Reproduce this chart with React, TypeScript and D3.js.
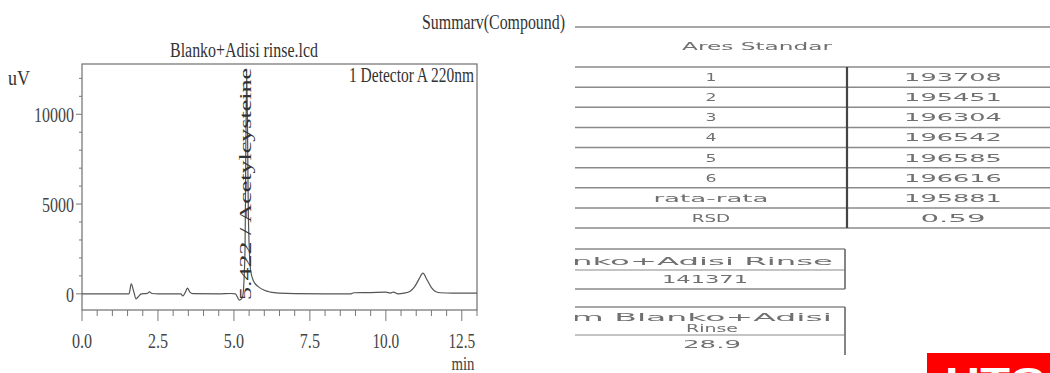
import React from "react";
import * as d3 from "d3";

// Chromatogram trace: retention time (min) and detector signal (uV)
const retentionTimes = [
  0.0, 1.55, 1.62, 1.7, 1.78, 1.86, 1.95, 2.15, 2.22, 2.3, 2.5, 3.25, 3.32, 3.4, 3.47, 3.55, 3.65,
  4.5, 4.9, 5.05, 5.18, 5.28, 5.36, 5.42, 5.48, 5.55, 5.65, 5.8, 6.0, 6.2, 6.5, 7.0, 8.0, 8.85,
  8.95, 9.5, 10.0, 10.15, 10.25, 10.4, 10.6, 10.8, 10.95, 11.1, 11.22, 11.35, 11.5, 11.65, 11.8,
  12.2, 13.0,
];
const signalUV = [
  0, 0, 550, 150, -280, -150, 0, 30, 110, 20, 0, 0, -120, 80, 320, 100, 10,
  0, 20, 0, -350, -200, 2000, 12500, 4000, 1300, 700, 400, 200, 100, 40, 10, 0, 0,
  60, 70, 90, 40, 100, 0, 40, 150, 400, 850, 1150, 800, 350, 120, 60,
  40, 40,
];

const yTickValues = [0, 5000, 10000];
const xTickValues = [0, 2.5, 5, 7.5, 10, 12.5];
const xTickLabels = ["0.0", "2.5", "5.0", "7.5", "10.0", "12.5"];

const chartTitle = "Blanko+Adisi rinse.lcd";
const detectorLabel = "1 Detector A 220nm";
const peakTime = 5.422;
const peakName = "Acetylcysteine";

// Summary table
const injectionLabels = ["1", "2", "3", "4", "5", "6", "rata-rata", "RSD"];
const areaValues = ["193708", "195451", "196304", "196542", "196585", "196616", "195881", "0.59"];
const rinseAreaTitle = "Blanko+Adisi Rinse";
const rinseArea = "141371";
const rinsePercentTitle = ["% Area dalam Blanko+Adisi", "Rinse"];
const rinsePercent = "28.9";

const serif = "'Liberation Serif', 'Times New Roman', serif";
const sans = "'DejaVu Sans', Verdana, sans-serif";

export default function App() {
  const W = 1050;
  const H = 373;

  const x = d3.scaleLinear().domain([0, 13.0]).range([82, 477]);
  const y = d3.scaleLinear().domain([-900, 12800]).range([310, 64]);

  const line = d3
    .line<number>()
    .x((_, i) => x(retentionTimes[i]))
    .y((d) => y(d))
    .curve(d3.curveMonotoneX);

  const yMinor = d3.range(0, 13000, 1000).filter((v) => v <= 12800);
  const xMinor = d3.range(0, 13.01, 0.5);

  const rows = d3.scaleBand<string>().domain(injectionLabels).range([67, 228]);

  const lineColor = "#8a8a8a";
  const textGray = "#707070";

  return (
    <svg width={W} height={H} style={{ display: "block", position: "absolute", left: 0, top: 0 }}>
      <rect width={W} height={H} fill="#fff" />
      <defs>
        <clipPath id="plotClip">
          <rect x={x(0)} y={y(12800)} width={x(13) - x(0)} height={y(-900) - y(12800)} />
        </clipPath>
        <clipPath id="tableClip">
          <rect x={575} y={0} width={W - 575} height={H} />
        </clipPath>
        <clipPath id="badgeClip">
          <rect x={927} y={353} width={W - 927} height={H - 353} />
        </clipPath>
        <filter id="soft">
          <feGaussianBlur stdDeviation="0.35" />
        </filter>
      </defs>

      {/* chromatogram */}
      <g>
        <text x={244} y={57} textAnchor="middle" fontFamily={serif} fontSize={20} fill="#333"
          textLength={148} lengthAdjust="spacingAndGlyphs">{chartTitle}</text>
        <text x={8} y={85} fontFamily={serif} fontSize={20} fill="#333" textLength={22}
          lengthAdjust="spacingAndGlyphs">uV</text>
        <text x={474} y={82} textAnchor="end" fontFamily={serif} fontSize={20} fill="#333"
          textLength={125} lengthAdjust="spacingAndGlyphs">{detectorLabel}</text>

        {/* frame */}
        <rect x={x(0)} y={y(12800)} width={x(13) - x(0)} height={y(-900) - y(12800)}
          fill="none" stroke="#6f6f6f" strokeWidth={1.2} />

        {/* y ticks */}
        {yMinor.map((v) => (
          <line key={"ym" + v} x1={x(0) - (v % 5000 === 0 ? 6 : 3)} x2={x(0)} y1={y(v)} y2={y(v)}
            stroke="#777" strokeWidth={1} />
        ))}
        {yTickValues.map((v) => {
          const s = String(v);
          return (
            <text key={"yl" + v} x={74} y={y(v) + 8} textAnchor="end" fontFamily={serif} fontSize={22}
              fill="#444" textLength={8 * s.length} lengthAdjust="spacingAndGlyphs">{s}</text>
          );
        })}

        {/* x ticks */}
        {xMinor.map((v) => (
          <line key={"xm" + v} x1={x(v)} x2={x(v)} y1={y(-900)} y2={y(-900) + (v % 2.5 === 0 ? 11 : 6)}
            stroke="#777" strokeWidth={1} />
        ))}
        {xTickValues.map((v, i) => (
          <text key={"xl" + v} x={x(v)} y={348} textAnchor="middle" fontFamily={serif} fontSize={21}
            fill="#444" textLength={6.7 * xTickLabels[i].length} lengthAdjust="spacingAndGlyphs">
            {xTickLabels[i]}
          </text>
        ))}
        <text x={463} y={370} textAnchor="middle" fontFamily={serif} fontSize={19} fill="#444"
          textLength={23} lengthAdjust="spacingAndGlyphs">min</text>

        {/* trace */}
        <path d={line(signalUV) ?? ""} fill="none" stroke="#555" strokeWidth={1.2}
          clipPath="url(#plotClip)" />

        {/* peak annotation */}
        <text transform={`translate(${x(peakTime) + 4},${300}) rotate(-90)`} fontFamily={serif}
          fontSize={17} fill="#333" textLength={232} lengthAdjust="spacingAndGlyphs">
          {`${peakTime.toFixed(3)} / ${peakName}`}
        </text>
      </g>

      {/* summary table */}
      <text x={422} y={29} fontFamily={serif} fontSize={20} fill="#333" textLength={143}
        lengthAdjust="spacingAndGlyphs">Summarv(Compound)</text>
      <line x1={575} x2={W} y1={27} y2={27} stroke={lineColor} strokeWidth={1.5} />

      <g clipPath="url(#tableClip)" filter="url(#soft)">
        <text x={757} y={50} textAnchor="middle" fontFamily={sans} fontSize={11} fill={textGray}
          textLength={150} lengthAdjust="spacingAndGlyphs">Ares Standar</text>

        {injectionLabels.map((lab, i) => {
          const top = rows(lab)!;
          const bw = rows.bandwidth();
          return (
            <g key={lab}>
              <line x1={575} x2={W} y1={top} y2={top} stroke={lineColor} strokeWidth={1.5} />
              <text x={711} y={top + bw / 2 + 4} textAnchor="middle" fontFamily={sans} fontSize={11}
                fill={textGray} textLength={lab.length === 1 ? 11 : lab.length * 12.8}
                lengthAdjust="spacingAndGlyphs">{lab}</text>
              <text x={953} y={top + bw / 2 + 4} textAnchor="middle" fontFamily={sans} fontSize={11}
                fill={textGray} textLength={areaValues[i].length * 16.3}
                lengthAdjust="spacingAndGlyphs">{areaValues[i]}</text>
            </g>
          );
        })}
        <line x1={575} x2={W} y1={rows.range()[1]} y2={rows.range()[1]} stroke={lineColor} strokeWidth={1.5} />
        <line x1={847} x2={847} y1={rows.range()[0]} y2={rows.range()[1]} stroke="#444" strokeWidth={2.2} />

        {/* rinse area box */}
        <line x1={560} x2={845} y1={249} y2={249} stroke={lineColor} strokeWidth={1.5} />
        <line x1={560} x2={845} y1={270} y2={270} stroke={lineColor} strokeWidth={1.2} />
        <line x1={560} x2={845} y1={289} y2={289} stroke={lineColor} strokeWidth={1.5} />
        <line x1={845} x2={845} y1={249} y2={289} stroke="#777" strokeWidth={1.8} />
        <text x={833} y={265} textAnchor="end" fontFamily={sans} fontSize={11} fill={textGray}
          textLength={312} lengthAdjust="spacingAndGlyphs">{rinseAreaTitle}</text>
        <text x={705} y={283} textAnchor="middle" fontFamily={sans} fontSize={11} fill={textGray}
          textLength={86} lengthAdjust="spacingAndGlyphs">{rinseArea}</text>

        {/* rinse percentage box */}
        <line x1={560} x2={845} y1={307} y2={307} stroke={lineColor} strokeWidth={1.5} />
        <line x1={560} x2={845} y1={335} y2={335} stroke={lineColor} strokeWidth={1.2} />
        <line x1={845} x2={845} y1={307} y2={355} stroke="#777" strokeWidth={1.8} />
        <text x={832} y={321} textAnchor="end" fontFamily={sans} fontSize={11} fill={textGray}
          textLength={rinsePercentTitle[0].length * 18.4} lengthAdjust="spacingAndGlyphs">
          {rinsePercentTitle[0]}
        </text>
        <text x={712} y={332} textAnchor="middle" fontFamily={sans} fontSize={10} fill={textGray}
          textLength={52} lengthAdjust="spacingAndGlyphs">{rinsePercentTitle[1]}</text>
        <text x={712} y={348} textAnchor="middle" fontFamily={sans} fontSize={11} fill={textGray}
          textLength={58} lengthAdjust="spacingAndGlyphs">{rinsePercent}</text>
      </g>

      {/* red badge at bottom right */}
      <g>
        <rect x={927} y={353} width={W - 927} height={H - 353} fill="#ff0000" />
        <g clipPath="url(#badgeClip)">
          <text x={945} y={394} fontFamily="'Liberation Sans', Arial, sans-serif" fontWeight="bold"
            fontSize={36} fill="#fff" textLength={100} lengthAdjust="spacingAndGlyphs">HTC</text>
        </g>
      </g>
    </svg>
  );
}
